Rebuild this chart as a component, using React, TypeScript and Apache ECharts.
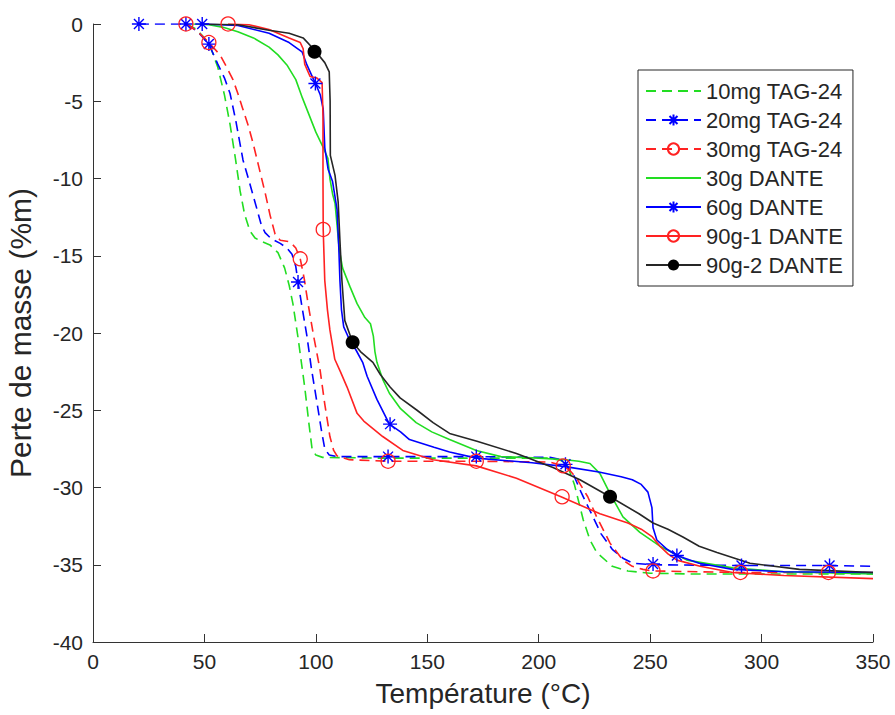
import React, { useEffect, useRef } from "react";
import * as echarts from "echarts";

const xTicks = { min: 0, max: 350, interval: 50 };
const yTicks = { min: -40, max: 0, interval: 5 };

const seriesNames = [
  "10mg TAG-24",
  "20mg TAG-24",
  "30mg TAG-24",
  "30g DANTE",
  "60g DANTE",
  "90g-1 DANTE",
  "90g-2 DANTE",
];

const tag10: number[][] = [
  [42, 0], [46, -0.3], [50, -0.9], [53, -1.6], [56, -2.8], [59, -4.6], [61.5, -6.5], [64, -8.8],
  [66, -10.8], [68, -12.3], [70.4, -13.4], [72.7, -13.85], [76, -14.1], [79.4, -14.3], [83, -14.8],
  [86, -15.8], [88, -16.9], [89.7, -18.1], [92, -20.3], [95, -23.5], [97, -26], [98.3, -27.5],
  [100, -27.9], [103, -28.05], [130, -28.1], [172, -28.1], [205, -28.1], [210, -28.25],
  [212.7, -28.5], [216, -29.8], [220, -32.1], [223, -33.4], [226, -34.2], [233, -35.1],
  [240, -35.4], [250, -35.55], [270, -35.6], [350, -35.6],
];

const tag20: number[][] = [
  [20.6, 0], [42, 0], [47, -0.5], [52, -1.3], [56, -2.6], [59, -3.5], [61.5, -4.5], [64, -6.2],
  [67.3, -8.8], [70.5, -10.4], [73.6, -12.0], [75.5, -13], [77.2, -13.5], [80, -13.9], [84, -14.2],
  [87, -14.5], [89.3, -14.9], [91, -15.7], [92, -16.7], [94, -18.5], [96, -20.2], [98, -22.3],
  [100.5, -24.5], [102.5, -26.3], [104, -27.5], [106, -27.9], [109.5, -28.0], [132, -28.0],
  [172, -28.0], [205, -28.05], [210, -28.2], [212, -28.5], [215.4, -29.1], [219, -30.3],
  [223, -31.5], [228, -33], [233, -34.0], [238, -34.6], [242.3, -34.9], [251, -35.0],
  [291, -35.05], [330, -35.05], [350, -35.1],
];

const tag30: number[][] = [
  [42, 0], [47, -0.5], [52, -1.2], [57, -2.0], [60, -2.8], [62.8, -3.6], [65, -4.5], [67, -5.4],
  [69.5, -6.5], [71.8, -7.7], [74.5, -9.3], [77.2, -10.9], [79.5, -12.4], [81.7, -13.6], [84, -14.0],
  [88.4, -14.1], [91, -14.5], [93, -15.2], [94.8, -16.5], [96.5, -18.1], [99, -20.2], [101.9, -22.4],
  [104, -24.6], [106.3, -26.7], [108, -27.6], [109.5, -27.95], [115, -28.2], [132, -28.3],
  [172, -28.3], [205, -28.35], [211, -28.6], [214, -28.9], [217, -29.4], [222, -30.6],
  [226, -31.9], [232, -33.6], [237.8, -34.7], [242, -35.1], [246.8, -35.3], [251, -35.4],
  [290, -35.5], [350, -35.5],
];

const dante30: number[][] = [
  [45, 0], [52, -0.05], [58, -0.2], [65, -0.5], [72, -0.9], [79, -1.5], [83, -2.0], [87, -2.65],
  [91, -3.6], [94, -4.8], [97, -5.9], [100, -7.0], [103, -7.9], [105.4, -8.7], [106.3, -10.0],
  [107.5, -11], [108.6, -11.6], [109.5, -13], [110.5, -14.6], [112, -15.8], [115.3, -17],
  [118.5, -18.1], [122, -19], [124.5, -19.4], [125.8, -20.2], [126.5, -21.2], [127.4, -21.9],
  [130, -23], [133, -23.9], [138, -24.9], [145, -25.8], [152, -26.4], [160, -26.9], [172, -27.6],
  [183, -28.0], [200, -28.1], [212, -28.2], [218, -28.3], [223, -28.45], [227.5, -29.1],
  [232, -30.4], [237.8, -31.9], [245.4, -32.9], [254.4, -33.8], [266.5, -34.7], [287, -35.2],
  [310, -35.45], [350, -35.6],
];

const dante60: number[][] = [
  [49, 0], [65, -0.1], [79, -0.6], [88, -1.2], [93.8, -1.8], [96, -2.65], [98.7, -3.5], [100, -3.9],
  [102, -4.6], [103.3, -5.5], [104, -8], [105.5, -9.4], [107.5, -10.2], [109.5, -12], [110.3, -14.5],
  [110.8, -16.6], [111.5, -18.5], [112.5, -19.6], [115.3, -20.5], [118, -21.1], [121, -21.9],
  [123, -22.8], [127.4, -24.3], [133, -25.9], [138, -26.4], [142, -26.9], [153, -27.4], [160, -27.7],
  [172, -28.1], [197, -28.4], [212, -28.65], [227, -29.0], [237, -29.3], [242, -29.5], [246, -29.8],
  [249, -30.3], [250.8, -31.3], [251.3, -32.6], [253, -33.4], [257.6, -34.0], [262, -34.4],
  [272, -34.9], [287, -35.3], [310, -35.45], [350, -35.5],
];

const dante90a: number[][] = [
  [60.6, 0], [70, -0.05], [79, -0.35], [88, -0.9], [93, -1.2], [94.3, -1.6], [95, -2.6], [97.4, -3.4],
  [100.5, -3.5], [102.8, -3.8], [103.2, -6], [103.2, -10], [103.3, -13.3], [104, -16.6],
  [105.2, -18.5], [106.3, -19.8], [108.5, -21.7], [111, -22.5], [114, -23.5], [118.5, -25.2],
  [121.5, -25.7], [130, -26.7], [139, -27.6], [152.6, -28.2], [172, -28.6], [190, -29.4],
  [210, -30.6], [227.5, -31.7], [240, -32.3], [246, -32.7], [251, -33.2], [254.4, -33.8],
  [258, -34.3], [262, -34.7], [272.4, -35.1], [287, -35.5], [310, -35.7], [350, -35.9],
];

const dante90b: number[][] = [
  [48, 0], [65, -0.05], [79, -0.4], [88, -0.6], [94.3, -0.9], [99.5, -1.7], [104, -2.5], [106, -3.1],
  [106.4, -5], [106.5, -8.5], [108.6, -9.8], [110, -11.5], [110.8, -14], [111.7, -16.6], [113, -19.2],
  [116.5, -20.6], [120, -21.2], [125.6, -21.9], [129, -22.7], [133.3, -23.5], [137.8, -24.2],
  [145.4, -25.0], [152.6, -25.8], [160, -26.5], [172.3, -27.0], [190, -27.8], [206.4, -28.7],
  [218.5, -29.5], [232, -30.6], [245, -31.7], [251.3, -32.3], [258, -32.7], [264.7, -33.2],
  [272, -33.8], [280, -34.2], [294.8, -34.9], [317, -35.3], [350, -35.5],
];

const tag20Markers: number[][] = [
  [20.6, 0], [41.7, 0], [52, -1.3], [92, -16.7], [132.4, -28.0], [172, -28.0], [212, -28.5],
  [251.3, -34.95], [291, -35.05], [330.5, -35.05],
];
const tag30Markers: number[][] = [
  [41.7, 0], [52, -1.2], [93, -15.2], [132.4, -28.3], [172, -28.3], [211, -28.6], [251.3, -35.4],
  [290.5, -35.5], [330, -35.5],
];
const dante60Markers: number[][] = [[49, 0], [99.8, -3.85], [133.3, -25.9], [262, -34.4]];
const dante90aMarkers: number[][] = [[60.6, 0], [103.3, -13.3], [210.5, -30.6]];
const dante90bMarkers: number[][] = [[99.4, -1.8], [116.5, -20.6], [232, -30.6]];

const ASTERISK = "path://M0,-10L0,10M-10,0L10,0M-7.1,-7.1L7.1,7.1M-7.1,7.1L7.1,-7.1";
const GREEN = "#22dd22";
const BLUE = "#0000ff";
const RED = "#ff2222";
const BLACK = "#262626";
const FONT = "Liberation Sans";
const TEXT = "#262626";

function makeSeries(
  name: string,
  data: number[][],
  color: string,
  dashed: boolean,
  marker: null | { symbol: string; size: number; itemStyle: any; points: number[][] }
) {
  const s: any = {
    name,
    type: "line",
    data,
    smooth: false,
    showSymbol: false,
    symbol: marker ? marker.symbol : "none",
    symbolSize: marker ? marker.size : 0,
    lineStyle: { color, width: 1.6, type: dashed ? [10, 6] : "solid" },
    itemStyle: marker ? marker.itemStyle : { color, opacity: 0 },
    emphasis: { disabled: true },
  };
  if (marker) {
    s.markPoint = {
      symbol: marker.symbol,
      symbolSize: marker.size,
      itemStyle: marker.itemStyle,
      label: { show: false },
      silent: true,
      data: marker.points.map((p) => ({ coord: p })),
    };
  }
  return s;
}

export default function App() {
  const ref = useRef<HTMLDivElement>(null);
  useEffect(() => {
    if (!ref.current) return;
    const chart = echarts.init(ref.current, undefined, { renderer: "svg" });
    const asteriskStyle = { color: "transparent", borderColor: BLUE, borderWidth: 1.4 };
    const circleStyle = { color: "transparent", borderColor: RED, borderWidth: 1.3 };
    chart.setOption({
      animation: false,
      backgroundColor: "#ffffff",
      textStyle: { fontFamily: FONT },
      grid: {
        left: 93,
        right: 22,
        top: 24,
        bottom: 73,
        containLabel: false,
        outerBoundsMode: "none",
      },
      legend: {
        orient: "vertical",
        left: 638,
        top: 70,
        data: seriesNames,
        backgroundColor: "#ffffff",
        borderColor: TEXT,
        borderWidth: 1,
        padding: [10, 10, 10, 7],
        itemWidth: 55,
        itemHeight: 14,
        itemGap: 7,
        textStyle: { fontFamily: FONT, fontSize: 22, color: TEXT, lineHeight: 21.5 },
        selectedMode: false,
      },
      xAxis: {
        type: "value",
        min: xTicks.min,
        max: xTicks.max,
        interval: xTicks.interval,
        name: "Température (°C)",
        nameLocation: "middle",
        nameGap: 37,
        nameTextStyle: { fontFamily: FONT, fontSize: 28, color: TEXT },
        axisLine: { show: true, onZero: false, lineStyle: { color: "#333", width: 1 } },
        axisTick: { show: true, inside: true, length: 8, lineStyle: { color: "#333" } },
        axisLabel: { fontFamily: FONT, fontSize: 21, color: TEXT, margin: 9 },
        splitLine: { show: false },
      },
      yAxis: {
        type: "value",
        min: yTicks.min,
        max: yTicks.max,
        interval: yTicks.interval,
        name: "Perte de masse (%m)",
        nameLocation: "middle",
        nameGap: 58,
        nameRotate: 90,
        nameTextStyle: { fontFamily: FONT, fontSize: 30, color: TEXT },
        axisLine: { show: true, onZero: false, lineStyle: { color: "#333", width: 1 } },
        axisTick: { show: true, inside: true, length: 8, lineStyle: { color: "#333" } },
        axisLabel: { fontFamily: FONT, fontSize: 21, color: TEXT, margin: 10 },
        splitLine: { show: false },
      },
      series: [
        makeSeries(seriesNames[0], tag10, GREEN, true, null),
        makeSeries(seriesNames[1], tag20, BLUE, true, {
          symbol: ASTERISK, size: 14, itemStyle: asteriskStyle, points: tag20Markers,
        }),
        makeSeries(seriesNames[2], tag30, RED, true, {
          symbol: "circle", size: 14, itemStyle: circleStyle, points: tag30Markers,
        }),
        makeSeries(seriesNames[3], dante30, GREEN, false, null),
        makeSeries(seriesNames[4], dante60, BLUE, false, {
          symbol: ASTERISK, size: 14, itemStyle: asteriskStyle, points: dante60Markers,
        }),
        makeSeries(seriesNames[5], dante90a, RED, false, {
          symbol: "circle", size: 14, itemStyle: circleStyle, points: dante90aMarkers,
        }),
        makeSeries(seriesNames[6], dante90b, BLACK, false, {
          symbol: "circle", size: 14, itemStyle: { color: "#000000" }, points: dante90bMarkers,
        }),
      ],
    });
    return () => chart.dispose();
  }, []);
  return (
    <div
      ref={ref}
      style={{ position: "fixed", left: 0, top: 0, width: 895, height: 715, background: "#fff" }}
    />
  );
}
